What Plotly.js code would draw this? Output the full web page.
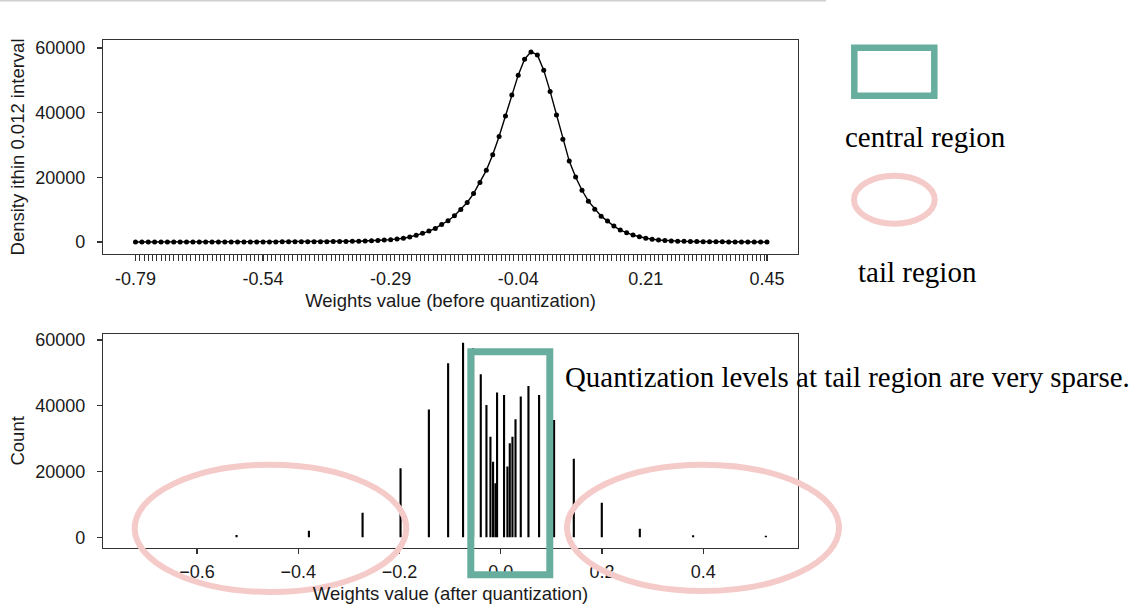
<!DOCTYPE html>
<html>
<head>
<meta charset="utf-8">
<script src="https://cdn.plot.ly/plotly-3.0.1.min.js"></script>
<style>
  html, body { margin: 0; padding: 0; background: #ffffff; }
  #chart { width: 1142px; height: 608px; }
</style>
</head>
<body>
<div id="chart"></div>
<script>
// ---------- data ----------
// Top panel: weight density per 0.0125-wide bin (before quantization)
const binStart = -0.79;
const binStep = 0.0125;
const density = [
  5, 5, 5, 5, 5, 5, 6, 6, 7, 7,
  8, 9, 10, 11, 12, 14, 16, 18, 20, 23,
  26, 30, 35, 40, 46, 53, 62, 72, 84, 98,
  115, 135, 158, 185, 215, 255, 300, 390, 490, 600,
  720, 900, 1180, 1550, 2050, 2670, 3390, 4210, 5440, 6570,
  8110, 10050, 12210, 14980, 18370, 22160, 26980, 32630, 38990, 45450,
  51610, 56530, 58800, 57870, 53150, 46580, 39300, 31800, 25030, 20110,
  16000, 12620, 10160, 8000, 6460, 4920, 3690, 2870, 2150, 1640,
  1180, 850, 620, 460, 340, 260, 200, 155, 120, 95,
  75, 60, 48, 38, 30, 25, 20, 16, 13, 10
];
const topTickVals = [-0.79, -0.54, -0.29, -0.04, 0.21, 0.4475];
const topTickText = ["-0.79", "-0.54", "-0.29", "-0.04", "0.21", "0.45"];

// Bottom panel: quantization levels and their counts
const qLevels = [-0.522, -0.379, -0.273, -0.198, -0.142, -0.104, -0.0745, -0.0547, -0.0395, -0.0283,
                 -0.0204, -0.0152, -0.0105, -0.0073, 0.0065, 0.0132, 0.0178, 0.0231, 0.0291, 0.0395,
                 0.0547, 0.0757, 0.1053, 0.1443, 0.1996, 0.2747, 0.380, 0.5237];
const qCounts = [700, 2000, 7500, 21000, 38900, 52900, 59200, 57500, 49600, 40200,
                 30600, 23000, 16400, 44000, 43300, 21500, 28600, 30600, 35900, 42800,
                 46000, 43300, 35700, 23900, 10500, 2600, 600, 500];
const countTicks = [0, 20000, 40000, 60000];
const afterTicks = [-0.6, -0.4, -0.2, 0.0, 0.2, 0.4];

// ---------- derived ----------
const binCenters = density.map((_, i) => +(binStart + i * binStep).toFixed(4));
const binEnd = binCenters[binCenters.length - 1];
const minorVals = [];
for (let v = binStart; v <= binEnd + 1e-9; v += (binStep * 20) / 30) minorVals.push(+v.toFixed(5));

// ---------- layout helpers ----------
const W = 1142, H = 608;
const px = x => x / W;
const py = y => 1 - y / H;
const FONT = "Liberation Sans, Arial, sans-serif";
const SERIF = "Liberation Serif, Times New Roman, serif";
const TXT = "#1a1a1a";
const AX = "#333333";
const GREEN = "#68ae9e";
const PINK = "#f5cbc9";

const axisCommon = {
  showline: true, mirror: true, linecolor: AX, linewidth: 1.2,
  showgrid: false, zeroline: false,
  ticks: "outside", ticklen: 6, tickwidth: 1.2, tickcolor: AX,
  tickfont: { family: FONT, size: 18, color: TXT },
  automargin: false
};

const traces = [
  {
    x: binCenters, y: density, type: "scatter", mode: "lines+markers",
    line: { color: "#000000", width: 1.4 },
    marker: { color: "#000000", size: 5 },
    xaxis: "x", yaxis: "y", hoverinfo: "x+y", showlegend: false
  },
  {
    x: qLevels, y: qCounts, type: "bar", width: 0.0042,
    marker: { color: "#000000", line: { width: 0 } },
    xaxis: "x2", yaxis: "y2", showlegend: false
  }
];

const layout = {
  width: W, height: H,
  margin: { l: 0, r: 0, t: 0, b: 0, pad: 0 },
  paper_bgcolor: "#ffffff", plot_bgcolor: "#ffffff",
  showlegend: false,
  xaxis: Object.assign({}, axisCommon, {
    domain: [px(103), px(798)], anchor: "y",
    range: [-0.8537, 0.5083],
    tickmode: "array", tickvals: topTickVals, ticktext: topTickText,
    ticklabelstandoff: 2,
    minor: { tickmode: "array", tickvals: minorVals, ticks: "outside", ticklen: 6, tickwidth: 1, tickcolor: AX },
    title: { text: "Weights value (before quantization)", font: { family: FONT, size: 18.5, color: TXT }, standoff: 6 }
  }),
  yaxis: Object.assign({}, axisCommon, {
    domain: [py(254), py(40)], anchor: "x",
    range: [-3711, 62474],
    tickmode: "array", tickvals: countTicks, tickformat: "d",
    ticklen: 5, ticklabelstandoff: 8,
    title: { text: "Density ithin 0.012 interval", font: { family: FONT, size: 18.5, color: TXT }, standoff: 5 }
  }),
  xaxis2: Object.assign({}, axisCommon, {
    domain: [px(103), px(798)], anchor: "y2",
    range: [-0.7858, 0.5872],
    tickmode: "array", tickvals: afterTicks, tickformat: ".1f",
    ticklen: 5, ticklabelstandoff: 2,
    title: { text: "Weights value (after quantization)", font: { family: FONT, size: 18.5, color: TXT }, standoff: 6 }
  }),
  yaxis2: Object.assign({}, axisCommon, {
    domain: [py(547.7), py(334)], anchor: "x2",
    range: [-3163, 61825],
    tickmode: "array", tickvals: countTicks, tickformat: "d",
    ticklen: 5, ticklabelstandoff: 8,
    title: { text: "Count", font: { family: FONT, size: 18.5, color: TXT }, standoff: 5 }
  }),
  shapes: [
    // thin grey rule at the very top
    { type: "line", xref: "paper", yref: "paper", x0: 0, x1: px(826), y0: py(0.8), y1: py(0.8),
      line: { color: "#cfcfcf", width: 1.6 }, layer: "above" },
    // legend: central region box
    { type: "rect", xref: "paper", yref: "paper", x0: px(854.3), x1: px(934.3), y0: py(95.7), y1: py(47.7),
      line: { color: GREEN, width: 6.5 }, layer: "above" },
    // legend: tail region ellipse
    { type: "circle", xref: "paper", yref: "paper", x0: px(854), x1: px(934.7), y0: py(223.7), y1: py(175.7),
      line: { color: PINK, width: 6 }, layer: "above" },
    // central region box on bottom panel
    { type: "rect", xref: "paper", yref: "paper", x0: px(470.8), x1: px(549.8), y0: py(574.8), y1: py(351.8),
      line: { color: GREEN, width: 7 }, layer: "above" },
    // tail region ellipses on bottom panel
    { type: "circle", xref: "paper", yref: "paper", x0: px(134.7), x1: px(406.3), y0: py(592), y1: py(464.7),
      line: { color: PINK, width: 6 }, layer: "above" },
    { type: "circle", xref: "paper", yref: "paper", x0: px(567), x1: px(839), y0: py(591), y1: py(464.7),
      line: { color: PINK, width: 6 }, layer: "above" }
  ],
  annotations: [
    { text: "central region", xref: "paper", yref: "paper", x: px(925.5), y: py(137),
      xanchor: "center", yanchor: "middle", showarrow: false,
      font: { family: SERIF, size: 29, color: "#000000" } },
    { text: "tail region", xref: "paper", yref: "paper", x: px(917.5), y: py(272),
      xanchor: "center", yanchor: "middle", showarrow: false,
      font: { family: SERIF, size: 29, color: "#000000" } },
    { text: "Quantization levels at tail region are very sparse.", xref: "paper", yref: "paper",
      x: px(847), y: py(377), xanchor: "center", yanchor: "middle", showarrow: false,
      font: { family: SERIF, size: 28.9, color: "#000000" } }
  ]
};

Plotly.newPlot("chart", traces, layout, { displayModeBar: false, staticPlot: true });
</script>
</body>
</html>
